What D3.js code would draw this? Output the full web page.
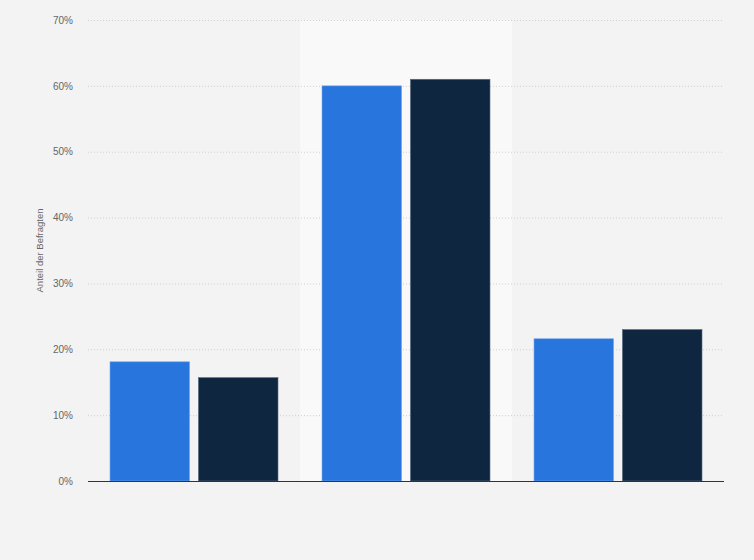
<!DOCTYPE html>
<html>
<head>
<meta charset="utf-8">
<script src="https://cdn.jsdelivr.net/npm/d3@7"></script>
<style>
  body { margin: 0; background: #f3f3f3; }
  svg { display: block; font-family: Arial, "Liberation Sans", sans-serif; }
</style>
</head>
<body>
<script>
// data
var categories = ["A", "B", "C"];
var seriesNames = ["Serie 1", "Serie 2"];
var series1 = [18.1, 60.0, 21.6];
var series2 = [15.7, 61.0, 23.0];
var yTicks = [0, 10, 20, 30, 40, 50, 60, 70];

var width = 754, height = 560;
var margin = {top: 20, right: 30, bottom: 79, left: 88};

var svg = d3.select("body").append("svg")
            .attr("width", width)
            .attr("height", height);

var x = d3.scaleBand()
          .domain(categories)
          .range([margin.left, width - margin.right]);

var xInner = d3.scaleBand()
          .domain(seriesNames)
          .range([22, x.bandwidth() - 22])
          .paddingInner(0.1);

var y = d3.scaleLinear()
          .domain([0, 70])
          .range([height - margin.bottom, margin.top]);

// highlighted middle column
svg.append("rect")
    .attr("x", x(categories[1]))
    .attr("y", y(70))
    .attr("width", x.bandwidth())
    .attr("height", y(0) - y(70))
    .attr("fill", "#f9f9f9");

// grid lines
svg.selectAll("line.grid")
    .data(yTicks.filter(function(d){return d > 0;}))
    .enter().append("line")
              .attr("class", "grid")
              .attr("x1", margin.left)
              .attr("x2", width - margin.right)
              .attr("y1", function(d){return y(d) + 0.5;})
              .attr("y2", function(d){return y(d) + 0.5;})
              .attr("stroke", "#cfcfcf")
              .attr("stroke-width", 1)
              .attr("stroke-dasharray", "1,2");

// y axis tick labels
var yAxis = d3.axisLeft(y)
              .tickValues(yTicks)
              .tickSize(0)
              .tickPadding(0)
              .tickFormat(function(d){return d + "%";});

var gy = svg.append("g")
    .attr("transform", "translate(" + (margin.left - 15) + ",0)")
    .call(yAxis);
gy.select(".domain").remove();
gy.selectAll("text")
    .attr("fill", "#666")
    .attr("font-size", "10px")
    .attr("font-family", "Arial, 'Liberation Sans', sans-serif");

// y axis title
svg.append("text")
    .attr("transform", "translate(43," + ((y(0) + y(70)) / 2) + ") rotate(-90)")
    .attr("text-anchor", "middle")
    .attr("fill", "#666")
    .attr("font-size", "9.5px")
    .text("Anteil der Befragten");

// bars
var rows = categories.map(function(c, i){
  return {cat: c, values: [
    {name: seriesNames[0], v: series1[i], color: "#2876dd", edge: "#7aa9ea"},
    {name: seriesNames[1], v: series2[i], color: "#0f2640", edge: "#5a6c80"}
  ]};
});

var groups = svg.selectAll("g.group")
    .data(rows)
    .enter().append("g")
              .attr("class", "group")
              .attr("transform", function(d){return "translate(" + x(d.cat) + ",0)";});

groups.selectAll("rect")
    .data(function(d){return d.values;})
    .enter().append("rect")
              .attr("x", function(d){return xInner(d.name);})
              .attr("y", function(d){return y(d.v);})
              .attr("width", xInner.bandwidth())
              .attr("height", function(d){return y(0) - y(d.v);})
              .attr("fill", function(d){return d.color;})
              .attr("stroke", function(d){return d.edge;})
              .attr("stroke-width", 0.6);

// baseline
svg.append("line")
    .attr("x1", margin.left)
    .attr("x2", width - margin.right)
    .attr("y1", y(0) + 0.5)
    .attr("y2", y(0) + 0.5)
    .attr("stroke", "#333")
    .attr("stroke-width", 1.2);
</script>
</body>
</html>
